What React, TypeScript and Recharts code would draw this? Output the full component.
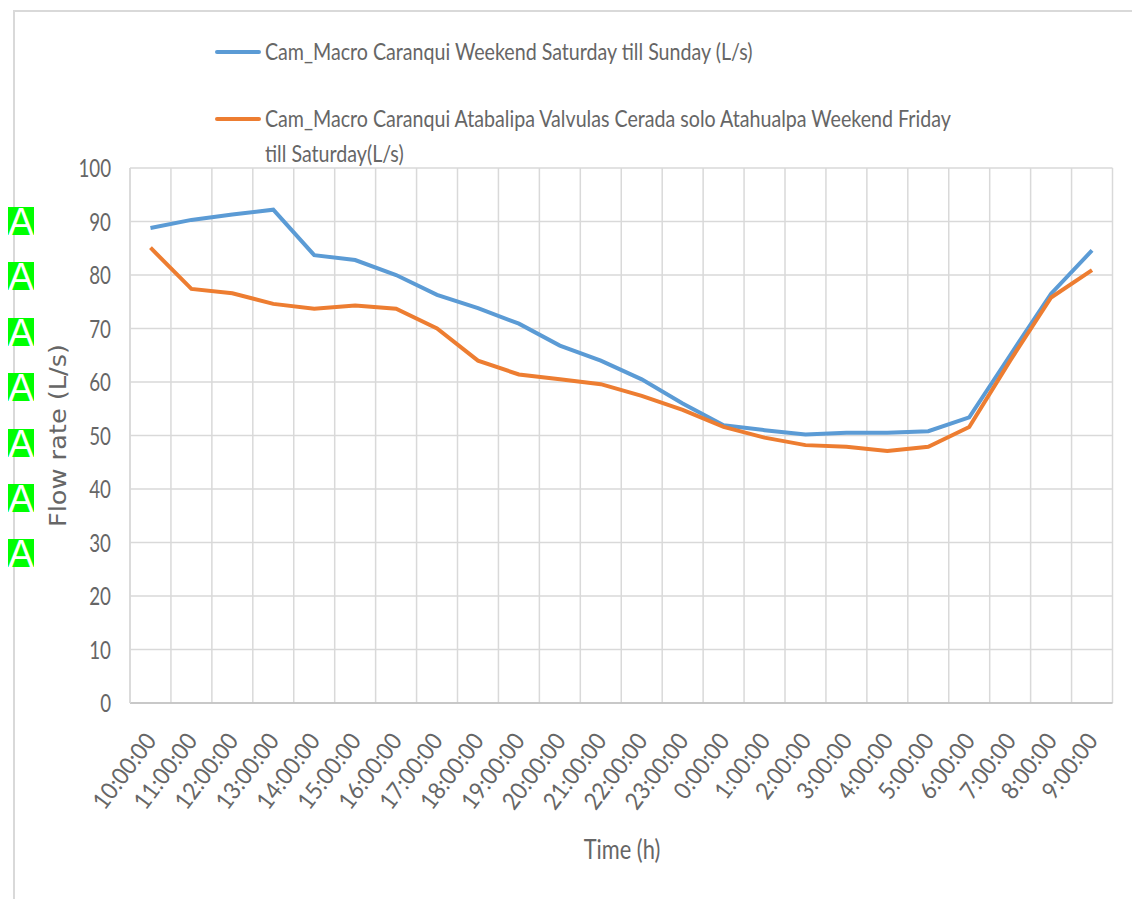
import React from "react"
import {
  LineChart,
  Line,
  XAxis,
  YAxis,
  CartesianGrid,
  Legend,
  Label,
} from "recharts"

const TIMES = [
  "10:00:00", "11:00:00", "12:00:00", "13:00:00", "14:00:00", "15:00:00",
  "16:00:00", "17:00:00", "18:00:00", "19:00:00", "20:00:00", "21:00:00",
  "22:00:00", "23:00:00", "0:00:00", "1:00:00", "2:00:00", "3:00:00",
  "4:00:00", "5:00:00", "6:00:00", "7:00:00", "8:00:00", "9:00:00",
]

const SATURDAY_SUNDAY = [
  88.8, 90.3, 91.3, 92.2, 83.7, 82.8, 80, 76.3, 73.8, 70.9, 66.8, 64,
  60.5, 56, 51.9, 51, 50.2, 50.5, 50.5, 50.8, 53.4, 65, 76.5, 84.6,
]

const FRIDAY_SATURDAY = [
  85.1, 77.4, 76.6, 74.6, 73.7, 74.3, 73.7, 70, 64, 61.4, 60.5, 59.6,
  57.4, 54.8, 51.6, 49.6, 48.2, 47.9, 47.1, 47.9, 51.6, 64, 75.8, 80.9,
]

const Y_TICKS = [0, 10, 20, 30, 40, 50, 60, 70, 80, 90, 100]
const MARKER_ROWS = [0, 1, 2, 3, 4, 5, 6]

const BLUE = "#5B9BD5"
const ORANGE = "#ED7D31"
const GREY = "#666666"
const FONT = "Lato, sans-serif"

const legendText = {
  position: "absolute" as const,
  left: 50,
  whiteSpace: "nowrap" as const,
  fontFamily: FONT,
  fontSize: 24,
  color: GREY,
  lineHeight: "34px",
  transform: "scaleX(0.818)",
  transformOrigin: "left center",
}

const data = TIMES.map((time, i) => ({
  time,
  sunday: SATURDAY_SUNDAY[i],
  saturday: FRIDAY_SATURDAY[i],
}))

function LegendBox() {
  return (
    <div style={{ position: "relative", width: 800, height: 150 }}>
      <div style={{ position: "absolute", left: 0, top: 10, width: 46, height: 4, background: BLUE, borderRadius: 2 }} />
      <div style={{ ...legendText, top: -6 }}>Cam_Macro Caranqui Weekend Saturday till Sunday (L/s)</div>
      <div style={{ position: "absolute", left: 0, top: 77, width: 46, height: 4, background: ORANGE, borderRadius: 2 }} />
      <div style={{ ...legendText, top: 61 }}>Cam_Macro Caranqui Atabalipa Valvulas Cerada solo Atahualpa Weekend Friday</div>
      <div style={{ ...legendText, top: 96 }}>till Saturday(L/s)</div>
    </div>
  )
}

function TimeTick({ x, y, payload }: any) {
  return (
    <text
      transform={`translate(${x + 7},${y + 30}) rotate(-53) scale(0.92,1)`}
      textAnchor="end"
      fontFamily={FONT}
      fontSize={24}
      fill={GREY}
    >
      {payload.value}
    </text>
  )
}

function FlowTick({ x, y, payload }: any) {
  return (
    <text
      transform={`translate(${x + 5},${y + 9}) scale(0.75,1)`}
      textAnchor="end"
      fontFamily={FONT}
      fontSize={25}
      fill={GREY}
    >
      {payload.value}
    </text>
  )
}

function FlowTitle({ viewBox }: any) {
  const cy = viewBox.y + viewBox.height / 2
  return (
    <text
      transform={`translate(66,${cy}) rotate(-90) scale(1.12,1)`}
      textAnchor="middle"
      fontFamily="'DejaVu Sans', sans-serif"
      fontSize={22.9}
      fill={GREY}
    >
      Flow rate (L/s)
    </text>
  )
}

function TimeTitle({ viewBox }: any) {
  return (
    <text
      transform={`translate(622,${viewBox.y + viewBox.height - 40}) scale(0.84,1)`}
      textAnchor="middle"
      fontFamily={FONT}
      fontSize={26}
      fill={GREY}
    >
      Time (h)
    </text>
  )
}

export default function App() {
  return (
    <div style={{ position: "absolute", left: 0, top: 0, width: 1132, height: 899, background: "#fff", overflow: "hidden" }}>
      <div style={{ position: "absolute", left: 14, top: 10, right: 0, height: 2, background: "#d9d9d9" }} />
      <div style={{ position: "absolute", left: 13, top: 10, bottom: 0, width: 2, background: "#d9d9d9" }} />
      <LineChart
        width={1132}
        height={899}
        data={data}
        margin={{ top: 168, right: 19.5, bottom: 0, left: 0 }}
      >
        <CartesianGrid
          stroke="#d9d9d9"
          strokeWidth={1.5}
          verticalCoordinatesGenerator={({ offset }: any) =>
            Array.from({ length: TIMES.length + 1 }, (_, i) => offset.left + (i * offset.width) / TIMES.length)
          }
        />
        <XAxis
          dataKey="time"
          scale="band"
          interval={0}
          height={196}
          tickLine={false}
          axisLine={{ stroke: "#bfbfbf", strokeWidth: 1.5 }}
          tick={<TimeTick />}
        >
          <Label content={<TimeTitle />} />
        </XAxis>
        <YAxis
          domain={[0, 100]}
          ticks={Y_TICKS}
          width={130}
          tickLine={false}
          axisLine={{ stroke: "#d9d9d9", strokeWidth: 1.5 }}
          tickMargin={18}
          tick={<FlowTick />}
        >
          <Label content={<FlowTitle />} />
        </YAxis>
        <Legend
          layout="vertical"
          verticalAlign="middle"
          content={<LegendBox />}
          wrapperStyle={{ position: "absolute", left: 215, top: 40, width: 800, height: 150 }}
        />
        <Line
          dataKey="sunday"
          name="Cam_Macro Caranqui Weekend Saturday till Sunday (L/s)"
          stroke={BLUE}
          strokeWidth={4}
          dot={false}
          isAnimationActive={false}
        />
        <Line
          dataKey="saturday"
          name="Cam_Macro Caranqui Atabalipa Valvulas Cerada solo Atahualpa Weekend Friday till Saturday(L/s)"
          stroke={ORANGE}
          strokeWidth={4}
          dot={false}
          isAnimationActive={false}
        />
      </LineChart>
      {MARKER_ROWS.map((row) => (
        <div
          key={row}
          style={{
            position: "absolute",
            left: 8,
            top: 207 + row * 55.4,
            width: 26,
            height: 28,
            background: "#00ff00",
            color: "#fff",
            fontFamily: "'Liberation Sans', sans-serif",
            fontSize: 38,
            lineHeight: "30px",
            textAlign: "center",
          }}
        >
          A
        </div>
      ))}
    </div>
  )
}
